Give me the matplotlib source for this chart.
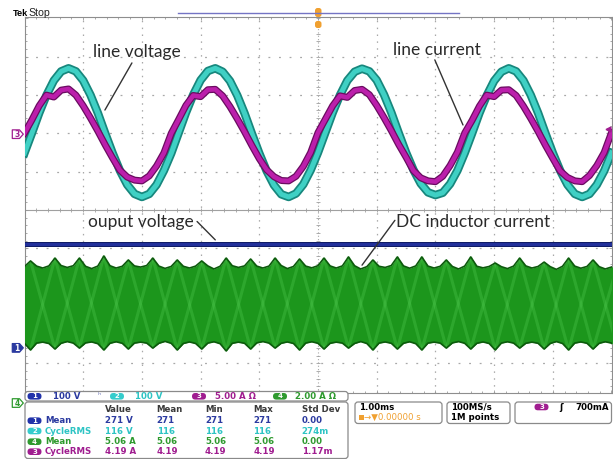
import numpy as np
import matplotlib
matplotlib.use("Agg")
import matplotlib.pyplot as plt
from matplotlib.patches import FancyBboxPatch, Polygon, Rectangle

# ------------------------------------------------------------------ data
# time base of the sampled traces (ms, trigger at 0)
time_start_ms = -5.0
step_ms = 0.125

# channel 2: line voltage (V)
line_voltage_V = [
    -51, 0, 53, 100, 138, 162, 170, 162, 138, 100, 53, 0, -51, -97, -134, -158, -166, -158, -134, -97,
    -52, 1, 54, 101, 139, 163, 170, 161, 137, 99, 52, -1, -52, -98, -135, -159, -166, -157, -133, -96,
    -50, 2, 54, 100, 138, 161, 169, 162, 139, 101, 54, 1, -50, -95, -131, -154, -161, -155, -132, -97,
    -51, 0, 53, 99, 137, 161, 170, 162, 138, 100, 53, 0, -51, -97, -134, -158, -166, -158, -134, -98,
    -51]

# channel 3: line current (A)
line_current_A = [
    0.15, 1.85, 3.7, 5.1, 4.85, 5.75, 5.9, 5.1, 3.7, 2.1, 0.4, -1.4, -3.1, -4.7, -5.6, -6.0, -6.1, -5.45, -4.15, -2.45,
    0.1, 1.9, 3.75, 5.05, 4.9, 5.8, 5.85, 5.0, 3.6, 2.0, 0.3, -1.5, -3.2, -4.65, -5.55, -6.05, -6.1, -5.5, -4.2, -2.4,
    0.2, 1.95, 3.7, 5.0, 4.8, 5.7, 5.85, 5.15, 3.75, 2.15, 0.45, -1.35, -3.0, -4.75, -5.7, -6.1, -6.2, -5.5, -4.1, -2.35,
    0.15, 1.8, 3.65, 5.1, 4.9, 5.75, 5.8, 5.05, 3.65, 2.05, 0.35, -1.45, -3.15, -4.8, -5.65, -6.1, -6.2, -5.4, -4.1, -2.4,
    0.2]

# channel 1: output voltage (V), flat
output_time_ms = [-5.0, 5.0]
output_voltage_V = [271, 271]

# channel 4: DC inductor current envelope (A), sampled 4x per ripple period
ripple_start_ms = -5.106
ripple_step_ms = 0.10417
inductor_upper_A = [
    7.00, 7.12, 7.42, 7.15, 7.05, 7.16, 7.57, 7.18, 7.08, 7.17, 7.57, 7.14,
    7.02, 7.15, 7.68, 7.17, 7.05, 7.14, 7.47, 7.16, 7.10, 7.18, 7.57, 7.15,
    7.03, 7.13, 7.47, 7.14, 7.05, 7.15, 7.42, 7.16, 7.00, 7.14, 7.57, 7.17,
    7.08, 7.16, 7.52, 7.15, 7.05, 7.15, 7.57, 7.18, 7.02, 7.13, 7.52, 7.15,
    7.06, 7.17, 7.57, 7.16, 7.05, 7.16, 7.63, 7.17, 7.00, 7.12, 7.47, 7.14,
    7.08, 7.18, 7.63, 7.16, 7.04, 7.16, 7.63, 7.15, 7.05, 7.14, 7.47, 7.13,
    7.00, 7.15, 7.63, 7.14, 7.06, 7.13, 7.31, 7.12, 7.02, 7.15, 7.57, 7.16,
    7.05, 7.13, 7.36, 7.12, 6.98, 7.14, 7.57, 7.15, 7.04, 7.13, 7.47, 7.12,
    7.00, 7.10, 7.21]
inductor_lower_A = [
    3.20, 3.12, 2.77, 3.13, 3.18, 3.11, 2.82, 3.12, 3.21, 3.13, 2.87, 3.14,
    3.19, 3.10, 2.77, 3.12, 3.20, 3.12, 2.82, 3.13, 3.18, 3.13, 2.87, 3.12,
    3.22, 3.12, 2.77, 3.11, 3.19, 3.11, 2.82, 3.13, 3.20, 3.10, 2.72, 3.12,
    3.18, 3.12, 2.82, 3.14, 3.21, 3.13, 2.87, 3.12, 3.19, 3.11, 2.77, 3.13,
    3.20, 3.12, 2.82, 3.12, 3.18, 3.13, 2.87, 3.11, 3.21, 3.11, 2.77, 3.13,
    3.19, 3.12, 2.82, 3.12, 3.20, 3.10, 2.77, 3.13, 3.18, 3.13, 2.87, 3.14,
    3.21, 3.12, 2.82, 3.12, 3.19, 3.11, 2.77, 3.13, 3.20, 3.13, 2.87, 3.12,
    3.18, 3.12, 2.82, 3.11, 3.21, 3.11, 2.77, 3.13, 3.19, 3.12, 2.82, 3.12,
    3.20, 3.13, 2.87]

# channel settings (scale per division, ground level in divisions)
ch1_scale, ch1_ground = 100.0, -3.60
ch2_scale, ch2_ground = 100.0, 2.00
ch3_scale, ch3_ground = 5.0, 1.98
ch4_scale, ch4_ground = 2.0, -5.04
trigger_level_A = 0.7

# measurement table
meas_header = ["Value", "Mean", "Min", "Max", "Std Dev"]
meas_rows = [
    ("1", "Mean", ["271 V", "271", "271", "271", "0.00"]),
    ("2", "CycleRMS", ["116 V", "116", "116", "116", "274m"]),
    ("4", "Mean", ["5.06 A", "5.06", "5.06", "5.06", "0.00"]),
    ("3", "CycleRMS", ["4.19 A", "4.19", "4.19", "4.19", "1.17m"]),
]

# ------------------------------------------------------------------ style
BLUE = "#2b3aa0"
CYAN = "#2ec4c4"
MAG = "#a01d90"
GREEN = "#2f9a2f"
ORANGE = "#f0a030"
GRID = "#a8a8a8"
TXT = "#2a2a2a"

W, H = 613, 459
X0, X1, YT, YB = 24.5, 611.5, 17.5, 393.0
DIVY = 38.3
Y0PX = 210.0
PX = 0.72  # points per pixel at 100 dpi

fig = plt.figure(figsize=(W / 100, H / 100), dpi=100)
fig.patch.set_facecolor("white")
ax = fig.add_axes([X0 / W, 1 - YB / H, (X1 - X0) / W, (YB - YT) / H])
ax.set_xlim(-5, 5)
ax.set_ylim((Y0PX - YB) / DIVY, (Y0PX - YT) / DIVY)
for s in ax.spines.values():
    s.set_color("#8e8e8e")
    s.set_linewidth(0.8)
ax.set_xticks(np.arange(-5, 5.01, 1))
ax.set_xticks(np.arange(-5, 5.01, 0.2), minor=True)
ax.set_yticks(np.arange(-4, 5.01, 1))
ax.set_yticks(np.arange(-4.6, 5.01, 0.2), minor=True)
ax.tick_params(which="both", direction="in", top=True, right=True,
               labelbottom=False, labelleft=False, color="#9a9a9a", width=0.6)
ax.tick_params(which="major", length=2.5)
ax.tick_params(which="minor", length=1.5)

# graticule
for xv in range(-4, 5):
    if xv == 0:
        ax.axvline(0, color=GRID, lw=0.8, ls=(0, (1, 2.0)), zorder=1)
    else:
        ax.axvline(xv, color=GRID, lw=0.9, ls=(0, (1.2, 4.3)), zorder=1)
for yv in range(-4, 5):
    if yv == 0:
        ax.axhline(0, color="#a0a0a0", lw=0.8, zorder=1)
    else:
        ax.axhline(yv, color=GRID, lw=0.9, ls=(0, (1.5, 6.95)), zorder=1)
tx = np.arange(-5, 5.01, 0.2)
ax.plot(tx, np.zeros_like(tx), ls="none", marker="|", ms=3.5, mew=0.6, color="#a0a0a0", zorder=1)
ty = np.arange(-4.6, 5.01, 0.2)
ax.plot(np.zeros_like(ty), ty, ls="none", marker="_", ms=3.5, mew=0.6, color="#a0a0a0", zorder=1)

# traces
t = time_start_ms + step_ms * np.arange(len(line_voltage_V))
v_div = np.asarray(line_voltage_V) / ch2_scale + ch2_ground
i_div = np.asarray(line_current_A) / ch3_scale + ch3_ground
ax.plot(t, v_div, color="#17877d", lw=8.5 * PX, zorder=3, solid_joinstyle="round")
ax.plot(t, v_div, color="#3fd0c4", lw=5.0 * PX, zorder=4, solid_joinstyle="round")
ax.plot(t, i_div, color="#6a0c60", lw=7.0 * PX, zorder=5, solid_joinstyle="round")
ax.plot(t, i_div, color="#bb1fab", lw=4.5 * PX, zorder=6, solid_joinstyle="round")

o_div = np.asarray(output_voltage_V) / ch1_scale + ch1_ground
ax.plot(output_time_ms, o_div, color="#101c66", lw=5.0 * PX, zorder=4)
ax.plot(output_time_ms, o_div, color="#22309a", lw=3.0 * PX, zorder=5)

tr = ripple_start_ms + ripple_step_ms * np.arange(len(inductor_upper_A))
up = np.asarray(inductor_upper_A) / ch4_scale + ch4_ground
lo = np.asarray(inductor_lower_A) / ch4_scale + ch4_ground
ax.fill_between(tr, lo, up, color="#1c961c", lw=0, zorder=3)
tp, upk, lok = tr[2::4], up[2::4], lo[2::4]
for k in range(len(tp) - 1):
    ax.plot([tp[k], tp[k + 1]], [upk[k], lok[k + 1]], color="#5ad45a", lw=2.2, alpha=0.28,
            zorder=3.5, solid_capstyle="butt")
    ax.plot([tp[k], tp[k + 1]], [lok[k], upk[k + 1]], color="#5ad45a", lw=2.2, alpha=0.28,
            zorder=3.5, solid_capstyle="butt")
ax.plot(tr, up, color="#0c5a0c", lw=1.2, zorder=3.6)
ax.plot(tr, lo, color="#0c5a0c", lw=1.2, zorder=3.6)

# ch3 trigger level marker on right edge
ax.plot([4.94], [ch3_ground + trigger_level_A / ch3_scale], marker="<", ms=3.5, color=MAG,
        clip_on=False, zorder=7)

# annotations
afont = dict(family="Lato", fontsize=12.5, color=TXT, va="baseline", zorder=8)
ax.text(-3.84, 3.99, "line voltage", **afont)
ax.text(1.27, 4.05, "line current", **afont)
ax.text(-3.91, -0.45, "ouput voltage", **afont)
ax.text(1.33, -0.45, "DC inductor current", **afont)
lp = dict(arrowstyle="-", color="#333333", lw=1.0, shrinkA=0, shrinkB=0)
ax.annotate("", xy=(-3.63, 2.61), xytext=(-3.17, 3.84), arrowprops=lp, zorder=8)
ax.annotate("", xy=(2.47, 2.22), xytext=(1.99, 3.92), arrowprops=lp, zorder=8)
ax.annotate("", xy=(-1.75, -0.78), xytext=(-2.06, -0.30), arrowprops=lp, zorder=8)
ax.annotate("", xy=(0.75, -1.44), xytext=(1.31, -0.27), arrowprops=lp, zorder=8)

# ------------------------------------------------------------------ UI chrome
ui = fig.add_axes([0, 0, 1, 1], zorder=10)
ui.set_xlim(0, W)
ui.set_ylim(H, 0)
ui.axis("off")

ui.text(12.5, 16, "Tek", family="Liberation Sans", fontsize=6.6, fontweight="bold",
        color="black", va="baseline")
ui.text(28.5, 16, "Stop", family="Liberation Sans", fontsize=7.6, color="#222222", va="baseline")
ui.plot([178, 459], [12.5, 12.5], color="#7474c4", lw=1.0)
ui.add_patch(FancyBboxPatch((315, 8), 6.5, 9, boxstyle="round,pad=0,rounding_size=2.5",
                            fc=ORANGE, ec="none"))
ui.add_patch(FancyBboxPatch((315, 21), 6.5, 7, boxstyle="round,pad=0,rounding_size=2.5",
                            fc=ORANGE, ec="none"))


def px_of(div):
    return Y0PX - div * DIVY


def gnd_marker(y, num, color, filled):
    pts = [(12.3, y - 4.3), (19.5, y - 4.3), (23.3, y), (19.5, y + 4.3), (12.3, y + 4.3)]
    ui.add_patch(Polygon(pts, closed=True, fc=color if filled else "white", ec=color, lw=0.9,
                         joinstyle="round"))
    ui.text(17.0, y + 0.3, num, fontsize=5.5, fontweight="bold",
            color="white" if filled else color, ha="center", va="center")


gnd_marker(px_of(ch3_ground), "3", MAG, False)
gnd_marker(px_of(ch1_ground), "1", BLUE, True)
gnd_marker(px_of(ch4_ground), "4", GREEN, False)

ifont = dict(fontsize=6.2, fontweight="bold", va="center")


def pill(x, y, num, color):
    ui.add_patch(FancyBboxPatch((x, y - 3.3), 14, 6.6, boxstyle="round,pad=0,rounding_size=3.3",
                                fc=color, ec="none"))
    ui.text(x + 7, y + 0.2, num, fontsize=5, fontweight="bold", color="white",
            ha="center", va="center")


def panel(x, y, w, h):
    ui.add_patch(FancyBboxPatch((x, y), w, h, boxstyle="round,pad=0,rounding_size=3",
                                fc="white", ec="#8a8a8a", lw=0.9))


# channel bar
panel(25, 391.5, 323, 9.5)
yb = 396.3
pill(27.5, yb, "1", "#2233aa")
ui.text(53, yb, "100 V", color=BLUE, **ifont)
ui.text(97, yb - 1, "\u02b0", color="#7a82c0", fontsize=6, va="center")
pill(110, yb, "2", "#35cccc")
ui.text(135, yb, "100 V", color=CYAN, **ifont)
pill(192, yb, "3", MAG)
ui.text(215, yb, "5.00 A \u03a9", color=MAG, **ifont)
pill(273, yb, "4", GREEN)
ui.text(295, yb, "2.00 A \u03a9", color=GREEN, **ifont)

# measurement table
panel(25, 402, 323, 56.5)
col_x = [105, 156.7, 205, 253.3, 301.7]
for cx, h in zip(col_x, meas_header):
    ui.text(cx, 410, h, color="#3a3a3a", **ifont)
row_y = [420.7, 431.0, 441.7, 451.7]
row_col = {"1": (BLUE, "#2233aa"), "2": (CYAN, "#35cccc"), "4": (GREEN, GREEN), "3": (MAG, MAG)}
for ry, (num, label, vals) in zip(row_y, meas_rows):
    tc, pc = row_col[num]
    pill(27.5, ry, num, pc)
    ui.text(45, ry, label, color=tc, **ifont)
    for cx, v in zip(col_x, vals):
        ui.text(cx, ry, v, color=tc, **ifont)

# timebase / acquisition / trigger panels
panel(355, 402, 87, 21.5)
ui.text(359.5, 407, "1.00ms", color="black", **ifont)
ui.add_patch(Rectangle((359.3, 414.8), 4.2, 5.2, fc=ORANGE, ec="none"))
ui.text(364.5, 417.6, "\u2192\u25bc0.00000 s", color=ORANGE, fontsize=6.2, va="center")
panel(447, 402, 63, 21.5)
ui.text(451, 407, "100MS/s", color="black", **ifont)
ui.text(451, 417.6, "1M points", color="black", **ifont)
panel(515, 402, 96.5, 21.5)
pill(534.5, 407, "3", MAG)
ui.text(559, 407, "\u0283", color="black", **ifont)
ui.text(575, 407, "700mA", color="black", **ifont)

fig.savefig("out.png", dpi=100)
